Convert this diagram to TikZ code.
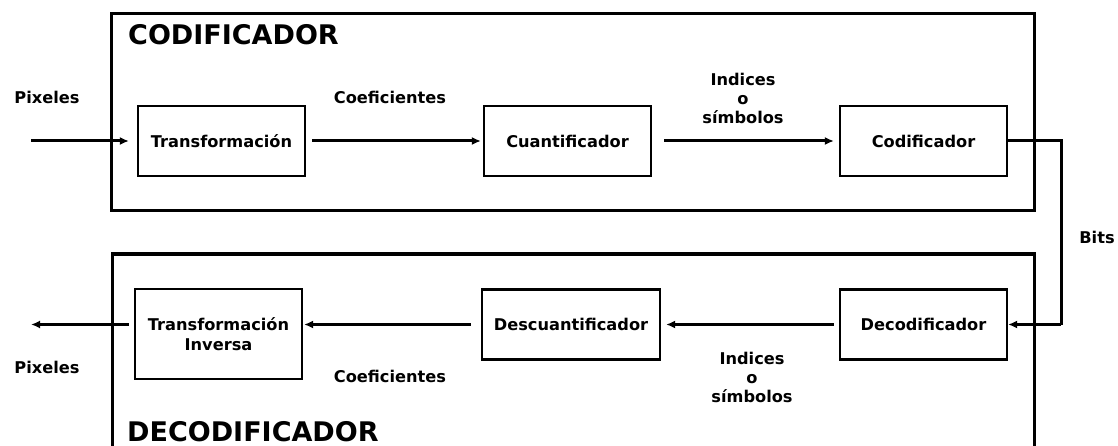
\documentclass[tikz,border=0pt]{standalone}
\usepackage{fontspec}
\setmainfont{DejaVu Sans}
\usetikzlibrary{arrows.meta}
\begin{document}
\begin{tikzpicture}[x=1pt,y=-1pt,
  block/.style={draw, line width=2.2pt, minimum width=167pt, minimum height=70pt, inner sep=0pt,
    font=\bfseries\fontsize{16.2}{19.5}\selectfont, align=center},
  outer/.style={draw, line width=3pt},
  lbl/.style={font=\bfseries\fontsize{16.2}{19}\selectfont, align=center, inner sep=0pt},
  title/.style={font=\bfseries\fontsize{27}{30}\selectfont, anchor=base west, inner sep=0pt},
  flow/.style={line width=3pt, -{Latex[length=9pt,width=8pt]}}
]
\clip (0,0) rectangle (1118,446);
\useasboundingbox (0,0) rectangle (1118,446);
\fill[white] (0,0) rectangle (1118,446);

% outer boxes
\draw[outer] (111,14) rectangle (1034,211);
\draw[outer] (112,254) rectangle (1034,470);
\node[title] (enc) at (128,45) {CODIFICADOR};
\node[title] (dec) at (127,441) {DECODIFICADOR};

% top row
\node[block] (t) at (221.5,141) {Transformación};
\node[block] (q) at (567.5,141) {Cuantificador};
\node[block] (c) at (923.5,141) {Codificador};
% bottom row
\node[block, minimum width=167pt, minimum height=90pt] (ti) at (218.5,334) {Transformación\\Inversa};
\node[block, minimum width=178pt] (dq) at (571,324.5) {Descuantificador};
\node[block] (d) at (923.5,324.5) {Decodificador};

\coordinate (in) at (31,141);
\coordinate (out) at (31,324.5);
\coordinate (r1) at (1061,141);
\coordinate (r2) at (1061,324.5);

\draw[flow, shorten >=8pt] (in) -- (t.west);
\draw[flow, shorten <=6pt, shorten >=2pt] (t.east) -- (q.west);
\draw[flow, shorten <=12pt, shorten >=5pt] (q.east) -- (c.west);
\draw[line width=3pt] (c.east) -- (r1) -- (r2);
\draw[flow] (r2) -- (d.east);
\draw[flow, shorten <=5pt, shorten >=5pt] (d.west) -- (dq.east);
\draw[flow, shorten <=10pt, shorten >=1pt] (dq.west) -- (ti.east |- dq.west);
\draw[flow, shorten <=5pt] (ti.west |- dq.west) -- (out);

% labels
\node[lbl] (p1) at (47,97) {Pixeles};
\node[lbl] (k1) at (390,97) {Coeficientes};
\node[lbl] (i1) at (743,98) {Indices\\o\\símbolos};
\node[lbl] (b) at (1097,237) {Bits};
\node[lbl] (p2) at (47,367) {Pixeles};
\node[lbl] (k2) at (390,376) {Coeficientes};
\node[lbl] (i2) at (752,377) {Indices\\o\\símbolos};
\end{tikzpicture}
\end{document}
